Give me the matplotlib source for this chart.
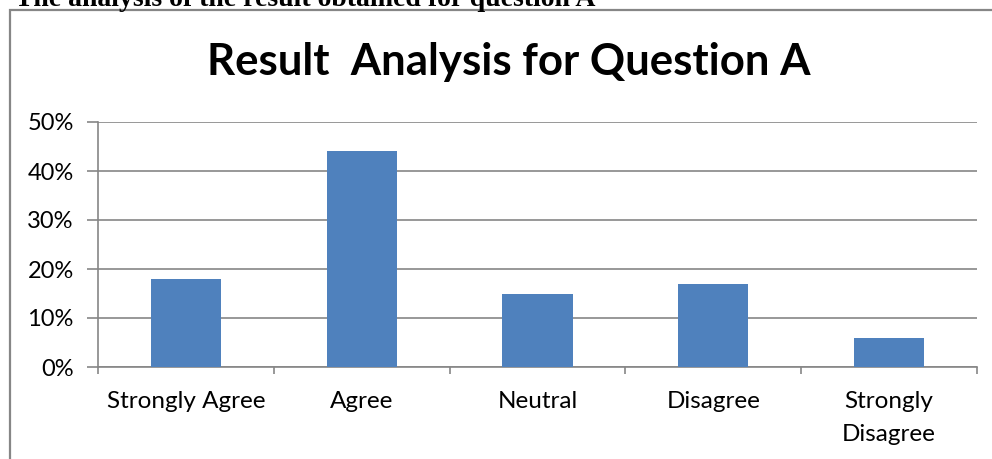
import numpy as np
import matplotlib.pyplot as plt
from matplotlib.patches import Rectangle

# chart data
categories = ['Strongly Agree', 'Agree', 'Neutral', 'Disagree', 'Strongly\nDisagree']
percent = [18, 44, 15, 17, 6]
y_ticks = [0, 10, 20, 30, 40, 50]

W, H = 992, 459
fig = plt.figure(figsize=(W / 100, H / 100), dpi=100)

# border box of the chart object (right/bottom edges run off the page)
fig.patches.append(Rectangle((10 / W, -0.1), 1.2, 1 - 10 / H + 0.1,
                             transform=fig.transFigure, fill=False,
                             edgecolor='#868686', linewidth=1.6))

# caption above the box, mostly cut off
fig.text(15 / W, 1 - 6 / H, 'The analysis of the result obtained for question A',
         family='Liberation Serif', weight='bold', fontsize=20,
         ha='left', va='baseline')

fig.text(509 / W, 1 - 62 / H, 'Result  Analysis for Question A',
         family='Lato', weight='bold', fontsize=31.5, ha='center', va='center')

ax = fig.add_axes([98 / W, 1 - 367 / H, (977 - 98) / W, (367 - 122) / H])
x = np.arange(len(categories))
ax.bar(x, percent, width=0.4, color='#4F81BD', zorder=3)

ax.set_xlim(-0.5, len(categories) - 0.5)
ax.set_ylim(0, 50)
ax.set_yticks(y_ticks)
ax.set_yticklabels([f'{v}%' for v in y_ticks], family='Lato', fontsize=17)
ax.yaxis.grid(True, color='#868686', linewidth=1.2, zorder=0)

# ticks at the category boundaries, labels at the centres
ax.set_xticks(np.arange(len(categories) + 1) - 0.5)
ax.set_xticklabels([])
ax.set_xticks(x, minor=True)
ax.set_xticklabels(categories, minor=True, family='Lato', fontsize=17.5,
                   linespacing=1.7, va='top')
ax.tick_params(axis='x', which='major', length=5, color='#868686', width=1.2)
ax.tick_params(axis='x', which='minor', length=0, pad=17)
ax.tick_params(axis='y', length=8, color='#868686', width=1.2, pad=9.5)

for s in ['top', 'right']:
    ax.spines[s].set_visible(False)
for s in ['left', 'bottom']:
    ax.spines[s].set_color('#868686')
    ax.spines[s].set_linewidth(1.2)

fig.savefig('out.png', dpi=100)
